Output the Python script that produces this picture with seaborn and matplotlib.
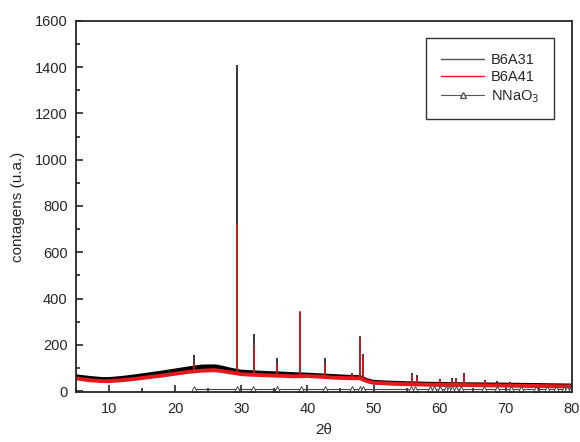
import matplotlib
matplotlib.use('Agg')
import matplotlib.pyplot as plt
from matplotlib.lines import Line2D
from matplotlib.ticker import MultipleLocator
import numpy as np
import pandas as pd
import seaborn as sns

sns.set_style('ticks')
plt.rcParams['font.family'] = ['Liberation Sans', 'DejaVu Sans']

#%% data
# smooth background (noise band centre) of each pattern
bg_theta = [5, 7, 9, 10, 12, 14, 16, 18, 20, 22, 24, 26, 27, 28, 29, 30, 32, 34, 36, 38,
            40, 42, 44, 46, 48, 49, 50, 52, 55, 58, 62, 66, 70, 75, 80]
b6a31_bg = [63, 56, 51, 51, 56, 63, 71, 79, 88, 97, 105, 106, 101, 94, 88, 83, 80, 77, 75, 72,
            70, 67, 64, 61, 59, 46, 39, 36, 33, 31, 29, 28, 27, 25, 23]
b6a41_bg = [55, 47, 43, 43, 47, 53, 60, 67, 75, 83, 88, 90, 87, 82, 78, 73, 70, 68, 66, 64,
            65, 62, 58, 56, 55, 43, 36, 33, 30, 28, 27, 25, 24, 22, 20]

# diffraction peaks: position, base, top
peak_theta = [22.9, 29.35, 31.9, 35.4, 38.9, 42.6, 46.7, 48.0, 48.4, 55.8, 56.6,
              60.0, 61.8, 62.5, 63.7, 66.8, 68.7, 70.6, 72.3, 74.8, 77.5]
b6a31_base = [97, 88, 80, 76, 72, 67, 61, 59, 59, 32, 32, 30, 29, 29, 29, 28, 28, 27, 26, 25, 24]
b6a31_top = [155, 1410, 245, 145, 340, 145, 80, 238, 160, 80, 70, 52, 55, 58, 78, 50, 42, 38, 36, 34, 32]
b6a41_base = [83, 78, 70, 67, 64, 62, 56, 55, 55, 30, 30, 28, 27, 27, 27, 26, 25, 24, 23, 22, 21]
b6a41_top = [122, 720, 200, 118, 345, 115, 72, 228, 150, 70, 62, 46, 50, 54, 68, 44, 36, 33, 31, 30, 28]

# NNaO3 reference lines
nnao3_theta = [22.8, 29.4, 31.8, 35.4, 39.0, 42.6, 46.7, 47.9, 48.4, 55.6, 56.2,
               58.6, 59.1, 60.0, 60.9, 61.4, 61.9, 62.4, 63.2, 66.7, 68.7, 70.8,
               72.3, 74.5, 76.3, 77.6, 78.8, 79.3, 79.8]
nnao3_y = [10] * len(nnao3_theta)

#%% plot
fig = plt.figure(figsize=(5.8, 4.42), dpi=100)
ax = fig.add_axes([0.131, 0.112, 0.855, 0.841])

series = [('B6A31', b6a31_bg, b6a31_base, b6a31_top, 'black', 3.2),
          ('B6A41', b6a41_bg, b6a41_base, b6a41_top, '#e31a1c', 2.8)]
for name, bg, base, top, col, w in series:
    sns.lineplot(x=bg_theta, y=bg, ax=ax, color=col, lw=w, sort=False)
    ax.vlines(peak_theta, base, top, color=col, lw=1.1)

sns.lineplot(x=nnao3_theta, y=nnao3_y, ax=ax, color='#444444', lw=0.8,
             marker='^', markersize=5, markerfacecolor='white',
             markeredgecolor='#444444', markeredgewidth=0.7)

ax.set(xlim=(5, 80), ylim=(-6, 1600))
ax.xaxis.set_major_locator(MultipleLocator(10))
ax.xaxis.set_minor_locator(MultipleLocator(5))
ax.yaxis.set_major_locator(MultipleLocator(200))
ax.yaxis.set_minor_locator(MultipleLocator(100))
ax.tick_params(which='both', direction='in', top=False, right=False,
               labelsize=10.5, width=1.2)
ax.tick_params(which='major', length=5)
ax.tick_params(which='minor', length=3)
ax.tick_params(axis='x', pad=7)
ax.tick_params(axis='y', pad=6)
for s in ax.spines.values():
    s.set_linewidth(1.3)
ax.set_xlabel('2θ', fontsize=11, labelpad=5)
ax.set_ylabel('contagens (u.a.)', fontsize=11, labelpad=7)

handles = [Line2D([], [], color='#555555', lw=1),
           Line2D([], [], color='#e31a1c', lw=1),
           Line2D([], [], color='#555555', lw=0.8, marker='^', markersize=4,
                  markerfacecolor='white', markeredgecolor='#555555')]
leg = ax.legend(handles, ['B6A31', 'B6A41', 'NNaO$_3$'], loc='upper right',
                bbox_to_anchor=(0.964, 0.953), borderaxespad=0, fontsize=10.5,
                handlelength=3.0, handletextpad=0.45, frameon=True, fancybox=False,
                edgecolor='black', labelspacing=0.25, borderpad=1.0)
leg.get_frame().set_linewidth(1.0)

fig.savefig('out.png', dpi=100)
